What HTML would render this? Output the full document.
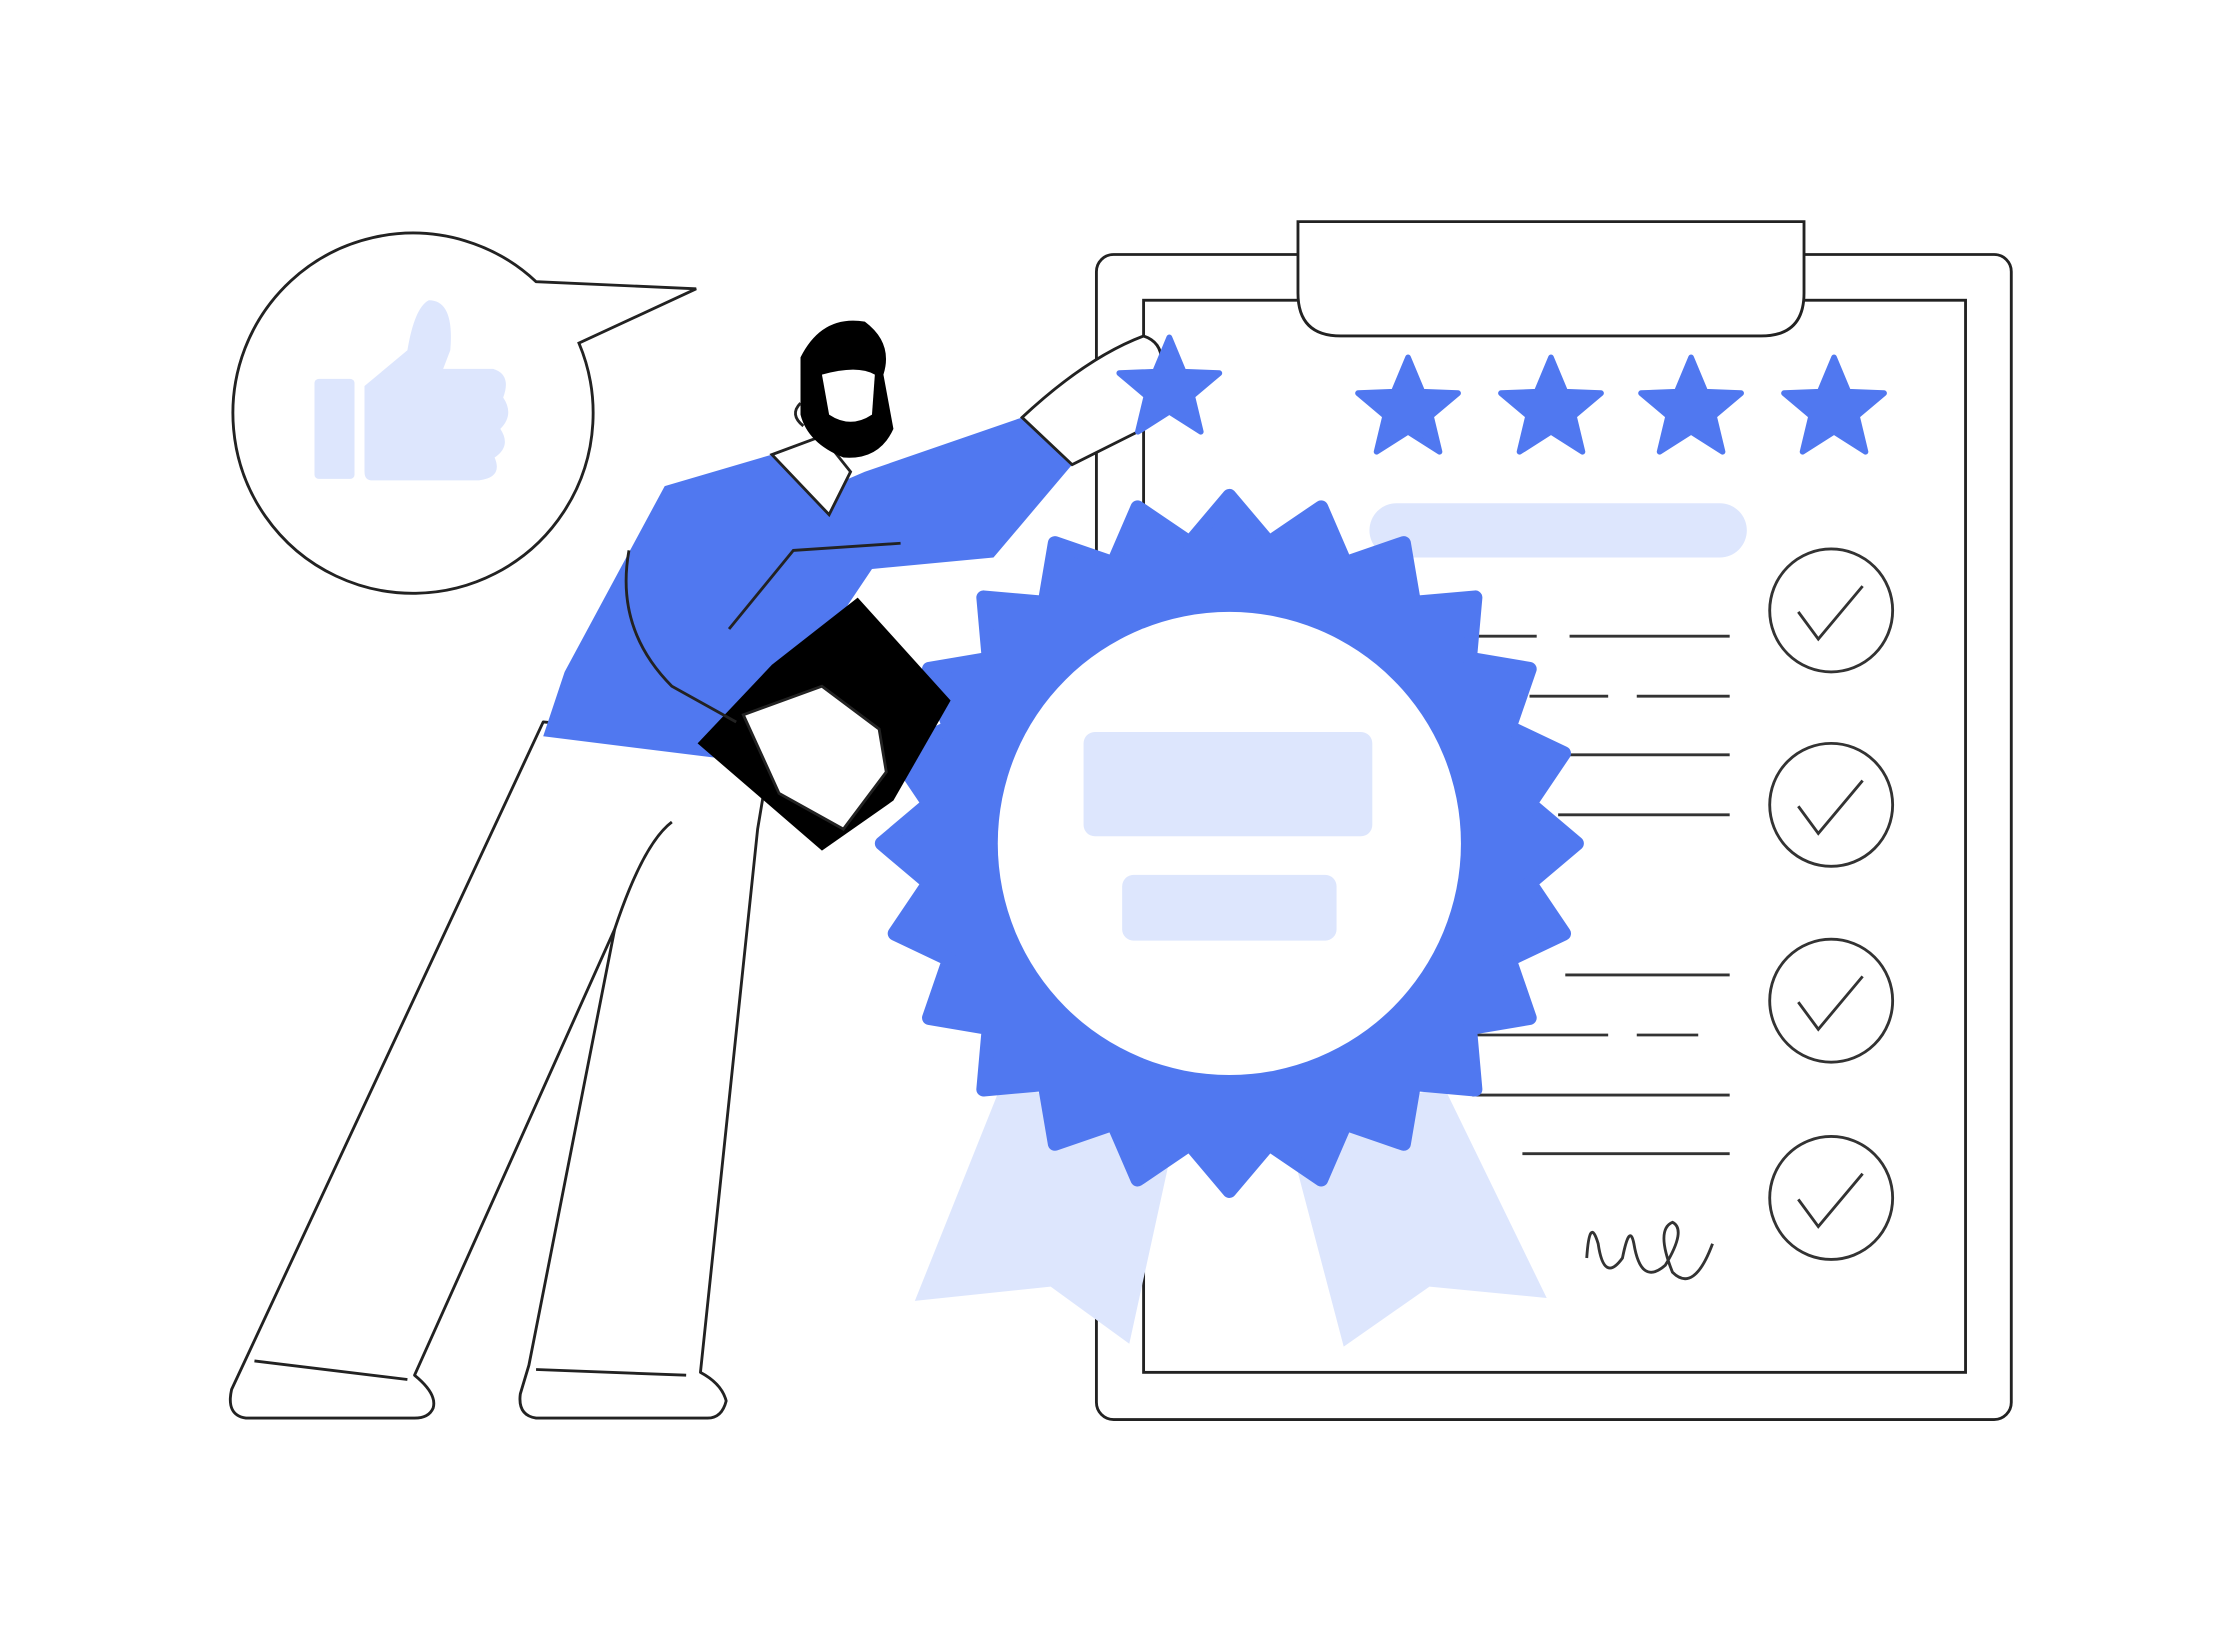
<!DOCTYPE html>
<html><head><meta charset="utf-8"><style>
html,body{margin:0;padding:0;background:#fff;width:2230px;height:1632px;overflow:hidden}
svg{display:block}
</style></head><body>
<svg width="2230" height="1632" viewBox="0 0 1560 1141.6" xmlns="http://www.w3.org/2000/svg">
<defs>
<g id="star"><polygon points="0,-36 10,-12 35,-11 16,5 22,30 0,16 -22,30 -16,5 -35,-11 -10,-12" fill="#5078f0" stroke="#5078f0" stroke-width="4" stroke-linejoin="round"/></g>
</defs>
<g fill="none" stroke="#222" stroke-width="2">
<path d="M375,197 L487,202 L405,240 A126,126 0 1 1 375,197 Z" fill="#fff"/>
<rect x="767" y="178" width="640" height="815" rx="12" fill="#fff"/>
<rect x="800" y="210" width="575" height="750" fill="#fff"/>
<path d="M908,155 L1262,155 L1262,205 Q1262,235 1232,235 L938,235 Q908,235 908,205 Z" fill="#fff"/>
</g>
<g fill="#dde6fd">
<rect x="220" y="265" width="28" height="70" rx="3"/>
<path d="M255,270 L285,245 Q290,215 300,210 Q318,210 315,245 L310,258 L345,258 Q358,262 352,278 Q360,290 350,300 Q358,312 346,320 Q352,334 335,336 L260,336 Q255,336 255,330 Z"/>
</g>
<use href="#star" x="985" y="286"/><use href="#star" x="1085" y="286"/><use href="#star" x="1183" y="286"/><use href="#star" x="1283" y="286"/>
<rect x="958" y="352" width="264" height="38" rx="19" fill="#dde6fd"/>
<g stroke="#333" stroke-width="2">
<line x1="1030" y1="445" x2="1075" y2="445"/><line x1="1098" y1="445" x2="1210" y2="445"/>
<line x1="1070" y1="487" x2="1125" y2="487"/><line x1="1145" y1="487" x2="1210" y2="487"/>
<line x1="1070" y1="528" x2="1210" y2="528"/>
<line x1="1090" y1="570" x2="1210" y2="570"/>
<line x1="1095" y1="682" x2="1210" y2="682"/>
<line x1="1030" y1="724" x2="1125" y2="724"/><line x1="1145" y1="724" x2="1188" y2="724"/>
<line x1="1030" y1="766" x2="1210" y2="766"/>
<line x1="1065" y1="807" x2="1210" y2="807"/>
</g>
<g fill="none" stroke="#333" stroke-width="2">
<circle cx="1281" cy="427" r="43"/><circle cx="1281" cy="563" r="43"/><circle cx="1281" cy="700" r="43"/><circle cx="1281" cy="838" r="43"/>
<path d="M1258,428 L1272,447 L1303,410"/><path d="M1258,564 L1272,583 L1303,546"/><path d="M1258,701 L1272,720 L1303,683"/><path d="M1258,839 L1272,858 L1303,821"/>
<path d="M1110,880 Q1112,850 1118,870 Q1122,898 1135,880 Q1140,855 1143,870 Q1148,900 1165,885 Q1180,860 1170,855 Q1158,860 1170,890 Q1185,905 1198,870"/>
</g>
<polygon points="700,760 825,780 790,940 735,900 640,910" fill="#dde6fd"/>
<polygon points="900,790 1010,760 1082,908 1000,900 940,942" fill="#dde6fd"/>
<path fill="#5078f0" stroke="#5078f0" stroke-width="10" stroke-linejoin="round" d="M860,347 L887.7,379.8 L924.2,355 L941.1,394.1 L982,380 L989.1,421.8 L1032,418 L1028.2,460.9 L1070,468 L1055.9,508.9 L1094,527 L1070.2,562.3 L1103,590 L1070.2,617.7 L1094,653 L1055.9,671.1 L1070,712 L1028.2,719.1 L1032,762 L989.1,758.2 L982,800 L941.1,785.9 L924.2,825 L887.7,800.2 L860,833 L832.3,800.2 L795.8,825 L778.9,785.9 L738,800 L730.9,758.2 L688,762 L691.8,719.1 L650,712 L664.1,671.1 L626,653 L649.8,617.7 L617,590 L649.8,562.3 L626,527 L664.1,508.9 L650,468 L691.8,460.9 L688,418 L730.9,421.8 L738,380 L778.9,394.1 L795.8,355 L832.3,379.8 Z"/>
<circle cx="860" cy="590" r="162" fill="#fff"/>
<rect x="758" y="512" width="202" height="73" rx="8" fill="#dde6fd"/>
<rect x="785" y="612" width="150" height="46" rx="8" fill="#dde6fd"/>
<g fill="#fff" stroke="#222" stroke-width="2" stroke-linejoin="round">
<path d="M380,505 L540,520 L530,580 L490,960 Q505,968 508,980 Q505,992 495,992 L375,992 Q362,990 364,975 L370,955 L430,650 L290,962 Q306,975 303,985 Q300,992 290,992 L172,992 Q158,990 162,972 Z"/>
<path d="M375,958 L480,962" fill="none"/><path d="M178,952 L285,965" fill="none"/>
<path d="M470,575 Q450,590 430,650" fill="none"/>
</g>
<path d="M465,340 L540,318 L570,345 L605,330 L715,292 L750,325 L695,390 L610,398 L555,480 L500,530 L380,515 L395,470 Z" fill="#5078f0"/>
<path d="M715,292 Q760,250 800,235 Q815,240 812,258 Q805,275 815,290 L800,300 L750,325 Z" fill="#fff" stroke="#222" stroke-width="2"/>
<use href="#star" x="818" y="272"/>
<path d="M540,318 L575,305 L595,330 L580,360 Z" fill="#fff" stroke="#222" stroke-width="2"/>
<path d="M560,250 Q575,220 605,225 Q625,240 618,262 L625,300 Q615,322 590,320 Q565,310 560,290 Z" fill="#000"/>
<path d="M575,262 Q600,255 612,262 L610,290 Q595,300 580,290 Z" fill="#fff"/>
<path d="M560,282 Q552,290 562,298" fill="none" stroke="#222" stroke-width="2"/>
<path d="M540,465 L600,418 L665,490 L625,560 L575,595 L488,520 Z" fill="#000"/>
<path d="M520,500 L575,480 L615,510 L620,540 L590,580 L545,555 Z" fill="#fff" stroke="#222" stroke-width="2"/>
<path d="M440,385 Q430,440 470,480 L515,505" fill="none" stroke="#222" stroke-width="2"/>
<path d="M510,440 L555,385 L630,380" fill="none" stroke="#222" stroke-width="2"/>
</svg>
</body></html>
